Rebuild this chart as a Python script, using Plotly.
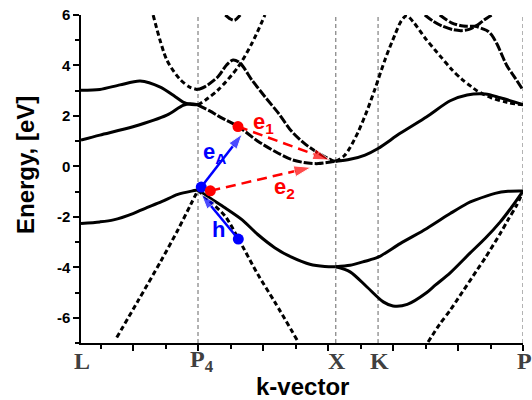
import plotly.graph_objects as go

# ---- k-path: high-symmetry points -------------------------------------
path_labels = ["L", "P<sub>4</sub>", "X", "K", "P"]
path_k = [0.0, 1.80, 3.92, 4.57, 6.80]

# ---- energy axis ticks -----------------------------------------------------
energy_ticks = [-6, -4, -2, 0, 2, 4, 6]
energy_tick_text = ["-6", "-4", "-2", "0", "2", "4", "6"]

# ---- bands, segment L - P4 ---------------------------------------------
k_lp_a = [0.0, 0.29, 0.60, 0.91, 1.22, 1.45, 1.57, 1.68, 1.80]
e_lp_a = [3.02, 3.05, 3.23, 3.38, 3.14, 2.76, 2.55, 2.46, 2.44]

k_lp_b = [0.0, 0.29, 0.80, 1.32, 1.57, 1.68, 1.80]
e_lp_b = [1.04, 1.24, 1.57, 2.03, 2.42, 2.48, 2.44]

k_lp_c = [1.11, 1.32, 1.52, 1.68, 1.80]
e_lp_c = [6.00, 4.22, 3.46, 3.13, 3.04]

k_lp_d = [0.0, 0.29, 0.50, 0.80, 0.98, 1.24, 1.49, 1.70, 1.80]
e_lp_d = [-2.26, -2.20, -2.12, -1.87, -1.67, -1.40, -1.11, -0.98, -0.94]

k_lp_e = [0.55, 0.88, 1.23, 1.49, 1.69, 1.80]
e_lp_e = [-6.78, -5.32, -3.75, -2.52, -1.50, -0.94]

# ---- bands, segment P4 - X ---------------------------------------------
k_px_hump = [1.80, 1.91, 2.11, 2.24, 2.34, 2.45, 2.63, 2.83, 3.04, 3.24, 3.45, 3.65, 3.86, 3.92]
e_px_hump = [3.04, 3.16, 3.56, 4.02, 4.22, 4.09, 3.42, 2.76, 2.10, 1.39, 0.88, 0.53, 0.24, 0.20]

k_px_steep = [1.80, 1.91, 2.11, 2.42, 2.63, 2.83]
e_px_steep = [2.43, 2.62, 3.03, 3.95, 4.88, 6.00]

k_px_top = [2.22, 2.30, 2.36, 2.45]
e_px_top = [6.00, 5.84, 5.79, 6.00]

k_px_cb = [1.80, 1.98, 2.11, 2.22, 2.42, 2.72, 2.98, 3.25, 3.49, 3.65, 3.86, 3.92]
e_px_cb = [2.43, 2.20, 2.00, 1.85, 1.58, 1.00, 0.60, 0.26, 0.13, 0.11, 0.18, 0.20]

k_px_vb = [1.80, 2.00, 2.22, 2.48, 2.72, 2.98, 3.24, 3.52, 3.75, 3.92]
e_px_vb = [-0.94, -1.28, -1.65, -2.12, -2.70, -3.22, -3.60, -3.88, -3.97, -3.98]

k_px_hh = [1.80, 2.00, 2.22, 2.42, 2.72, 2.98, 3.34]
e_px_hh = [-0.94, -1.42, -1.98, -2.86, -4.28, -5.37, -6.95]

# ---- bands, segment X - K - P ------------------------------------------
k_xp_up = [3.92, 4.05, 4.14, 4.27, 4.40, 4.52, 4.68, 4.83, 4.93, 5.01,
           5.12, 5.29, 5.45, 5.55, 5.70, 5.86, 6.00, 6.09, 6.32, 6.55, 6.80]
e_xp_up = [0.20, 0.42, 0.75, 1.40, 2.20, 3.05, 4.25, 5.22, 5.78, 5.97,
           5.70, 5.10, 4.60, 4.30, 3.85, 3.45, 3.17, 3.00, 2.71, 2.54, 2.44]

k_xp_cb = [3.92, 4.14, 4.37, 4.57, 4.91, 5.32, 5.68, 5.94, 6.22, 6.45, 6.80]
e_xp_cb = [0.20, 0.28, 0.45, 0.71, 1.31, 1.97, 2.60, 2.83, 2.87, 2.72, 2.45]

k_xp_t1 = [5.29, 5.42, 5.55, 5.72, 5.85, 5.97, 6.10, 6.20, 6.32]
e_xp_t1 = [6.00, 5.75, 5.57, 5.42, 5.38, 5.43, 5.60, 5.80, 6.00]

k_xp_t2 = [5.52, 5.70, 5.88, 6.06, 6.18, 6.26, 6.32, 6.40, 6.47, 6.55, 6.68, 6.80]
e_xp_t2 = [6.00, 5.69, 5.56, 5.55, 5.45, 5.36, 5.20, 4.85, 4.45, 4.00, 3.50, 3.03]

k_xp_v1 = [3.92, 4.14, 4.37, 4.57, 4.91, 5.32, 5.68, 5.94, 6.06, 6.37, 6.57, 6.80]
e_xp_v1 = [-3.98, -3.92, -3.76, -3.60, -3.06, -2.46, -1.87, -1.47, -1.34, -1.07, -0.99, -0.98]

k_xp_v2 = [3.92, 4.14, 4.40, 4.65, 4.80, 5.02, 5.32, 5.45, 5.68, 5.98, 6.22, 6.45, 6.63, 6.80]
e_xp_v2 = [-3.98, -4.18, -4.78, -5.37, -5.53, -5.47, -5.00, -4.71, -4.22, -3.45, -2.85, -2.20, -1.60, -0.98]

k_xp_v3 = [5.34, 5.52, 5.68, 5.80, 6.09, 6.22, 6.45, 6.57, 6.70, 6.80]
e_xp_v3 = [-6.96, -6.25, -5.70, -5.24, -4.12, -3.62, -2.66, -2.12, -1.55, -1.00]

# ---- transitions: (start k, start E) -> (end k, end E) ------------------
arrow_ea = [(1.85, -0.82), (2.48, 1.28)]
arrow_h = [(2.42, -2.88), (1.85, -1.10)]
arrow_e1 = [(2.415, 1.58), (3.83, 0.25)]
arrow_e2 = [(1.99, -0.97), (3.54, -0.04)]

SOLID = "solid"
STEEP = "5px,3px"
MEDIUM = "9px,2px"

bands = [
    (k_lp_a, e_lp_a, SOLID), (k_lp_b, e_lp_b, SOLID), (k_lp_c, e_lp_c, STEEP),
    (k_lp_d, e_lp_d, SOLID), (k_lp_e, e_lp_e, STEEP),
    (k_px_hump, e_px_hump, MEDIUM), (k_px_steep, e_px_steep, STEEP),
    (k_px_top, e_px_top, MEDIUM), (k_px_cb, e_px_cb, MEDIUM),
    (k_px_vb, e_px_vb, SOLID), (k_px_hh, e_px_hh, STEEP),
    (k_xp_up, e_xp_up, STEEP), (k_xp_cb, e_xp_cb, SOLID),
    (k_xp_t1, e_xp_t1, MEDIUM), (k_xp_t2, e_xp_t2, MEDIUM),
    (k_xp_v1, e_xp_v1, SOLID), (k_xp_v2, e_xp_v2, SOLID), (k_xp_v3, e_xp_v3, STEEP),
]

SANS = "Liberation Sans, Arial, sans-serif"
SERIF = "Liberation Serif, Times New Roman, serif"
BLUE = "#0000ff"
RED = "#ff0000"

fig = go.Figure()

for k, e, dash in bands:
    fig.add_trace(go.Scatter(
        x=k, y=e, mode="lines",
        line=dict(color="black", width=3, dash=dash, shape="spline", smoothing=0.8),
        hoverinfo="skip",
    ))


def transition(points, color, dash, head):
    """Arrow from the start state to the end state, with a dot on the start state."""
    (k0, e0), (k1, e1) = points
    fig.add_trace(go.Scatter(
        x=[k0, k1], y=[e0, e1], mode="lines+markers",
        line=dict(color=color, width=2.5, dash=dash),
        marker=dict(symbol="arrow", size=[0, head], color=color, angleref="previous"),
        cliponaxis=False, hoverinfo="skip",
    ))
    fig.add_trace(go.Scatter(
        x=[k0], y=[e0], mode="markers",
        marker=dict(symbol="circle", size=11, color=color),
        cliponaxis=False, hoverinfo="skip",
    ))


transition(arrow_h, BLUE, "solid", 16)
transition(arrow_ea, BLUE, "solid", 16)
transition(arrow_e1, RED, "10px,6px", 18)
transition(arrow_e2, RED, "10px,6px", 18)

# high-symmetry guide lines
for k in path_k[1:]:
    fig.add_shape(type="line", xref="x", yref="paper", x0=k, x1=k, y0=0, y1=1,
                  line=dict(color="#666666", width=1, dash="4px,3px"), layer="below")

annotations = []
for lab, k in zip(path_labels, path_k):
    annotations.append(dict(
        x=k, y=0, xref="x", yref="paper", text=lab, showarrow=False,
        xanchor="center", yanchor="middle", yshift=-18,
        xshift=4 if "sub" in lab else 1,
        font=dict(family=SERIF, size=24, color="#404040", weight=700),
    ))

label_font = dict(family=SANS, size=22, weight=700)
annotations += [
    dict(x=1.85, y=0.55, text="e<sub>A</sub>", font=dict(label_font, color=BLUE),
         xanchor="left", yanchor="middle", showarrow=False),
    dict(x=2.62, y=1.72, text="e<sub>1</sub>", font=dict(label_font, color=RED),
         xanchor="left", yanchor="middle", showarrow=False),
    dict(x=2.94, y=-0.84, text="e<sub>2</sub>", font=dict(label_font, color=RED),
         xanchor="left", yanchor="middle", showarrow=False),
    dict(x=2.12, y=-2.49, text="h", font=dict(label_font, color=BLUE),
         xanchor="center", yanchor="middle", showarrow=False),
    dict(x=0.5, y=0, xref="paper", yref="paper", text="k-vector", showarrow=False,
         xanchor="center", yanchor="middle", yshift=-43,
         font=dict(family=SANS, size=24, color="black", weight=700)),
    dict(x=0, y=0.5, xref="paper", yref="paper", text="Energy, [eV]", showarrow=False,
         textangle=-90, xanchor="center", yanchor="middle", xshift=-56, yshift=14,
         font=dict(family=SANS, size=24, color="black", weight=700)),
]

fig.update_layout(
    width=532, height=400,
    margin=dict(l=81, r=9, t=15, b=57, autoexpand=False),
    paper_bgcolor="white", plot_bgcolor="white",
    showlegend=False,
    annotations=annotations,
    xaxis=dict(
        range=[path_k[0], path_k[-1]], showgrid=False, zeroline=False,
        showline=True, linecolor="black", linewidth=1.5,
        ticks="outside", tick0=0.8, dtick=1, ticklen=6, tickwidth=1.5, tickcolor="black",
        minor=dict(ticks="outside", tick0=0.3, dtick=1, ticklen=4, tickwidth=1.5,
                   tickcolor="black"),
        showticklabels=False,
    ),
    yaxis=dict(
        range=[-7, 6], showgrid=False, zeroline=False,
        showline=True, linecolor="black", linewidth=1.5,
        ticks="outside", tickmode="array", tickvals=energy_ticks, ticktext=energy_tick_text,
        ticklen=6, tickwidth=1.5, tickcolor="black",
        minor=dict(ticks="outside", dtick=1, ticklen=4, tickwidth=1.5, tickcolor="black"),
        tickfont=dict(family=SANS, size=15, color="black", weight=700),
    ),
)

fig.write_html("out.html")
